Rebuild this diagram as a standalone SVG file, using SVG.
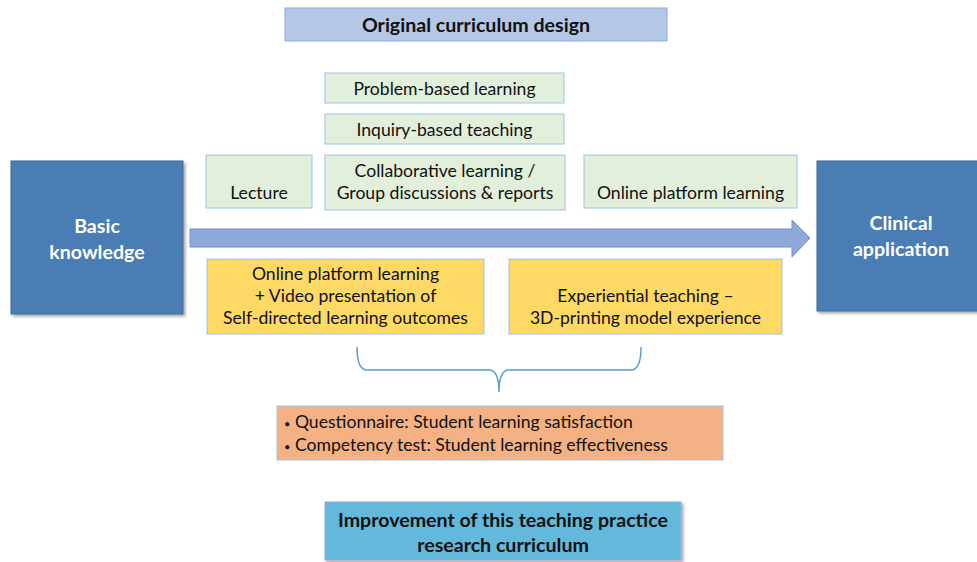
<svg xmlns="http://www.w3.org/2000/svg" width="977" height="562" viewBox="0 0 977 562">
  <defs>
    <filter id="shadow" x="-10%" y="-10%" width="130%" height="130%">
      <feDropShadow dx="2" dy="2" stdDeviation="1.5" flood-color="#000" flood-opacity="0.35"/>
    </filter>
  </defs>
  <style>
    text { font-family: Lato, "Open Sans", "Liberation Sans", sans-serif; text-anchor: middle; }
    .t { font-size: 17.6px; fill: #111; }
    .b { font-size: 19.6px; font-weight: bold; fill: #111; }
    .w { font-size: 19.6px; font-weight: bold; fill: #fff; }
    .green { fill: #e2efda; stroke: #9dc3e6; stroke-width: 1; }
    .yellow { fill: #ffd966; stroke: #9dc3e6; stroke-width: 1; }
    .big { fill: #4a7db4; stroke: #3e6a9c; stroke-width: 1; filter: url(#shadow); }
  </style>

  <g id="title">
    <rect x="285" y="8" width="382" height="33" fill="#b4c7e7" stroke="#8faadc"/>
    <text class="b" x="476" y="32">Original curriculum design</text>
  </g>

  <g id="problem-based">
    <rect class="green" x="325" y="73" width="239" height="30"/>
    <text class="t" x="444.5" y="95">Problem-based learning</text>
  </g>
  <g id="inquiry-based">
    <rect class="green" x="325" y="114" width="239" height="30"/>
    <text class="t" x="444.5" y="136">Inquiry-based teaching</text>
  </g>
  <g id="lecture">
    <rect class="green" x="206" y="155" width="106" height="53"/>
    <text class="t" x="259" y="199">Lecture</text>
  </g>
  <g id="collaborative">
    <rect class="green" x="325" y="155" width="240" height="55"/>
    <text class="t" x="445" y="177">Collaborative learning /</text>
    <text class="t" x="445" y="199">Group discussions &amp; reports</text>
  </g>
  <g id="online-original">
    <rect class="green" x="584" y="155" width="213" height="53"/>
    <text class="t" x="690.5" y="199">Online platform learning</text>
  </g>

  <g id="connectors">
    <path d="M190,229 H792 V220 L810,238 L792,257 V247 H190 Z" fill="#8eaadb" stroke="#6f8fc7" stroke-width="1"/>
    <path d="M357,347 Q357,370 367,370 H489 Q499,370 499,392 Q499,370 509,370 H631 Q641,370 641,347" fill="none" stroke="#5b9bd5" stroke-width="1.5"/>
  </g>

  <g id="basic-knowledge">
    <rect class="big" x="11" y="161" width="172" height="153"/>
    <text class="w" x="97" y="233">Basic</text>
    <text class="w" x="97" y="259">knowledge</text>
  </g>
  <g id="clinical-application">
    <rect class="big" x="817" y="161" width="165" height="150"/>
    <text class="w" x="901" y="230">Clinical</text>
    <text class="w" x="901" y="256">application</text>
  </g>

  <g id="online-video">
    <rect class="yellow" x="207" y="259" width="277" height="75"/>
    <text class="t" x="345.5" y="280">Online platform learning</text>
    <text class="t" x="345.5" y="302">+ Video presentation of</text>
    <text class="t" x="345.5" y="324">Self-directed learning outcomes</text>
  </g>
  <g id="experiential">
    <rect class="yellow" x="509" y="259" width="273" height="75"/>
    <text class="t" x="645.5" y="302">Experiential teaching –</text>
    <text class="t" x="645.5" y="324">3D-printing model experience</text>
  </g>

  <g id="evaluation">
    <rect x="277" y="406" width="446" height="54" fill="#f4b183" stroke="#9dc3e6"/>
    <text class="t" x="284" y="428" style="text-anchor:start"><tspan font-size="11">•</tspan> Questionnaire: Student learning satisfaction</text>
    <text class="t" x="284" y="451" style="text-anchor:start"><tspan font-size="11">•</tspan> Competency test: Student learning effectiveness</text>
  </g>

  <g id="improvement">
    <rect x="325" y="502" width="356" height="58" fill="#62b9dc" stroke="#8faadc" filter="url(#shadow)"/>
    <text class="b" x="503" y="527">Improvement of this teaching practice</text>
    <text class="b" x="503" y="552">research curriculum</text>
  </g>
</svg>
